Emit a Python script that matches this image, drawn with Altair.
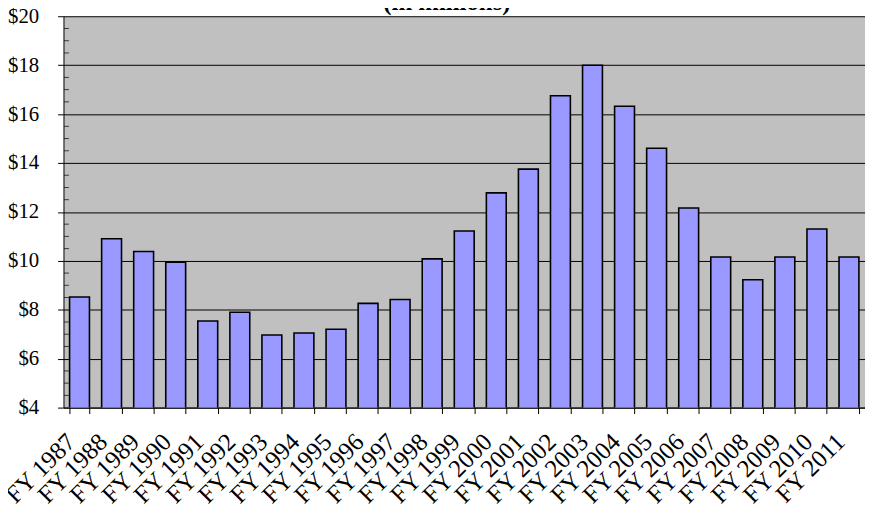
import altair as alt
import pandas as pd

title_text = ["(in millions)"]
years = ["FY 1987", "FY 1988", "FY 1989", "FY 1990", "FY 1991", "FY 1992",
         "FY 1993", "FY 1994", "FY 1995", "FY 1996", "FY 1997", "FY 1998",
         "FY 1999", "FY 2000", "FY 2001", "FY 2002", "FY 2003", "FY 2004",
         "FY 2005", "FY 2006", "FY 2007", "FY 2008", "FY 2009", "FY 2010",
         "FY 2011"]
values = [8.52, 10.9, 10.38, 9.94, 7.54, 7.9, 6.97, 7.05, 7.2, 8.26, 8.42,
          10.08, 11.22, 12.78, 13.75, 16.75, 18.0, 16.32, 14.6, 12.16, 10.16,
          9.23, 10.16, 11.3, 10.16]
major_ticks = [4, 6, 8, 10, 12, 14, 16, 18, 20]
minor_ticks = [4.5, 5, 5.5, 6.5, 7, 7.5, 8.5, 9, 9.5, 10.5, 11, 11.5, 12.5,
               13, 13.5, 14.5, 15, 15.5, 16.5, 17, 17.5, 18.5, 19, 19.5]

df = pd.DataFrame({"year": years, "value": values})
minor_df = pd.DataFrame({"value": minor_ticks})
title_df = pd.DataFrame({"t": title_text})

FONT = "Liberation Serif"
yscale = alt.Scale(domain=[4, 20], nice=False, zero=False)
yaxis = alt.Axis(title=None, values=major_ticks, format="$.0f",
                 labelFont=FONT, labelFontSize=21, labelColor="black",
                 grid=True, gridColor="black", gridWidth=1,
                 tickColor="black", tickSize=6, domainColor="black",
                 labelPadding=19)

bars = alt.Chart(df).mark_bar(
    color="#9999FF", stroke="black", strokeWidth=1.6, clip=True
).encode(
    x=alt.X("year:N", sort=years,
            scale=alt.Scale(paddingInner=0.38, paddingOuter=0.19),
            axis=alt.Axis(title=None, labelAngle=-45, labelAlign="right",
                          labelBaseline="middle", labelFont=FONT,
                          labelFontSize=25, labelColor="black",
                          tickBand="extent", tickSize=6, tickColor="black",
                          domainColor="black", labelPadding=24,
                          labelOffset=-9, grid=False,
                          labelOverlap=False)),
    y=alt.Y("value:Q", scale=yscale, axis=yaxis)
)

minor = alt.Chart(minor_df).mark_tick(
    orient="horizontal", color="black", thickness=1, size=5
).encode(
    y=alt.Y("value:Q", scale=yscale, axis=yaxis),
    x=alt.value(3)
)

title = alt.Chart(title_df).mark_text(
    font=FONT, fontSize=25, fontWeight="bold", color="black",
    align="center", baseline="alphabetic"
).encode(
    text="t:N",
    x=alt.value(387),
    y=alt.value(-6)
)

chart = alt.layer(bars, minor, title).properties(
    width=809, height=395,
    autosize=alt.AutoSizeParams(type="none"),
    padding={"left": 56, "top": 6, "right": 0, "bottom": 98}
).configure_view(fill="#C0C0C0", stroke="transparent")

chart.save("out.html", embed_options={"renderer": "svg", "actions": False})
